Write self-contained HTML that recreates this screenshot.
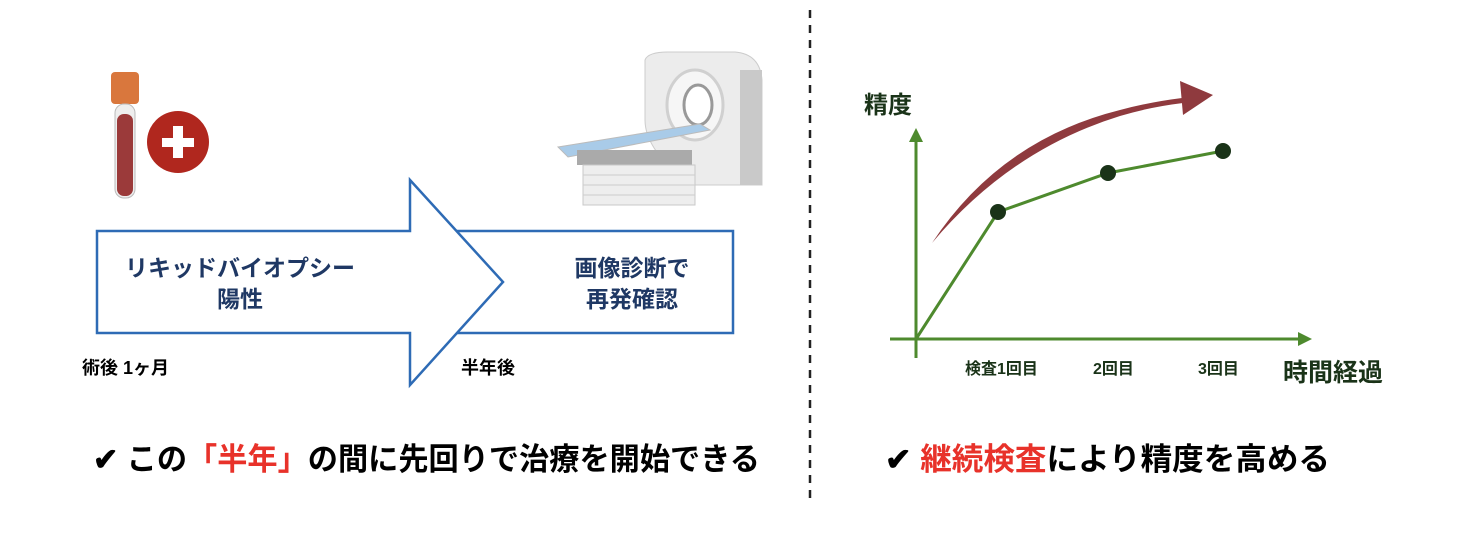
<!DOCTYPE html>
<html><head><meta charset="utf-8"><style>
html,body{margin:0;padding:0;background:#fff;}
svg{display:block}
text{font-family:"Liberation Sans","Noto Sans CJK JP",sans-serif;}
</style></head><body>
<svg width="1472" height="534" viewBox="0 0 1472 534" xmlns="http://www.w3.org/2000/svg">
<rect width="1472" height="534" fill="#fff"/>
<line x1="810" y1="10" x2="810" y2="505" stroke="#222" stroke-width="2.5" stroke-dasharray="8,7"/>

<!-- blood tube -->
<rect x="111" y="72" width="28" height="32" rx="4" fill="#d9773d"/>
<rect x="115" y="104" width="20" height="94" rx="9" fill="#eee" stroke="#bbb"/>
<rect x="117" y="114" width="16" height="82" rx="7" fill="#9b3a3a"/>
<circle cx="178" cy="142" r="31" fill="#b0271e"/>
<rect x="162" y="138" width="32" height="9" fill="#fff"/>
<rect x="173" y="126" width="10" height="32" fill="#fff"/>

<!-- CT scanner -->
<path d="M645 60 Q648 52 668 52 L735 52 Q760 54 762 80 L762 185 L690 185 Q645 150 645 120 Z" fill="#ececec" stroke="#ccc"/>
<rect x="740" y="70" width="22" height="115" fill="#c9c9c9"/>
<ellipse cx="695" cy="105" rx="28" ry="35" fill="#f6f6f6" stroke="#d0d0d0" stroke-width="3"/>
<ellipse cx="698" cy="105" rx="14" ry="20" fill="#fff" stroke="#999" stroke-width="3"/>
<polygon points="558,147 700,124 710,130 568,157" fill="#a9cbe8" stroke="#bbb"/>
<rect x="577" y="150" width="115" height="15" fill="#aaa"/>
<rect x="583" y="165" width="112" height="40" fill="#eeeeee" stroke="#c8c8c8"/>
<line x1="583" y1="175" x2="695" y2="175" stroke="#ccc"/>
<line x1="583" y1="185" x2="695" y2="185" stroke="#ccc"/>
<line x1="583" y1="195" x2="695" y2="195" stroke="#ccc"/>

<rect x="440" y="231" width="293" height="102" fill="#fff" stroke="#2e6bb5" stroke-width="2.5"/>
<polygon points="97,231 410,231 410,180 503,282 410,385 410,333 97,333" fill="#fff" stroke="#2e6bb5" stroke-width="2.5"/>

<g fill="#1f3864" font-size="23" font-weight="bold" text-anchor="middle">
<text x="240" y="276">リキッドバイオプシー</text>
<text x="240" y="307">陽性</text>
<text x="632" y="276">画像診断で</text>
<text x="632" y="307">再発確認</text>
</g>
<text x="82" y="374" font-size="18" font-weight="bold" fill="#000">術後 1ヶ月</text>
<text x="461" y="374" font-size="18" font-weight="bold" fill="#000">半年後</text>

<!-- chart -->
<g stroke="#4e8a2e" stroke-width="3" fill="none">
<line x1="916" y1="358" x2="916" y2="138"/>
<line x1="890" y1="339" x2="1300" y2="339"/>
<polyline points="916,339 998,212 1108,173 1223,151"/>
</g>
<polygon points="916,128 909,142 923,142" fill="#4e8a2e"/>
<polygon points="1312,339 1298,332 1298,346" fill="#4e8a2e"/>
<g fill="#1a3318">
<circle cx="998" cy="212" r="8"/><circle cx="1108" cy="173" r="8"/><circle cx="1223" cy="151" r="8"/>
</g>
<path d="M932 243 Q1000 140 1120 110 Q1150 102 1182 98 L1183 103 Q1150 107 1120 116 Q1010 150 932 243 Z" fill="#8f3a3e"/>
<polygon points="1180,81 1213,95 1183,115" fill="#8f3a3e"/>
<g fill="#1a3318" font-weight="bold">
<text x="864" y="113" font-size="24">精度</text>
<text x="965" y="374" font-size="16">検査1回目</text>
<text x="1093" y="374" font-size="16">2回目</text>
<text x="1198" y="374" font-size="16">3回目</text>
<text x="1283" y="381" font-size="25">時間経過</text>
</g>

<text x="93" y="470" font-size="31" font-weight="bold" fill="#000" textLength="667" lengthAdjust="spacingAndGlyphs">✔ この<tspan fill="#e8322a">「半年」</tspan>の間に先回りで治療を開始できる</text>
<text x="885" y="470" font-size="31" font-weight="bold" fill="#000" textLength="445" lengthAdjust="spacingAndGlyphs">✔ <tspan fill="#e8322a">継続検査</tspan>により精度を高める</text>
</svg>
</body></html>
